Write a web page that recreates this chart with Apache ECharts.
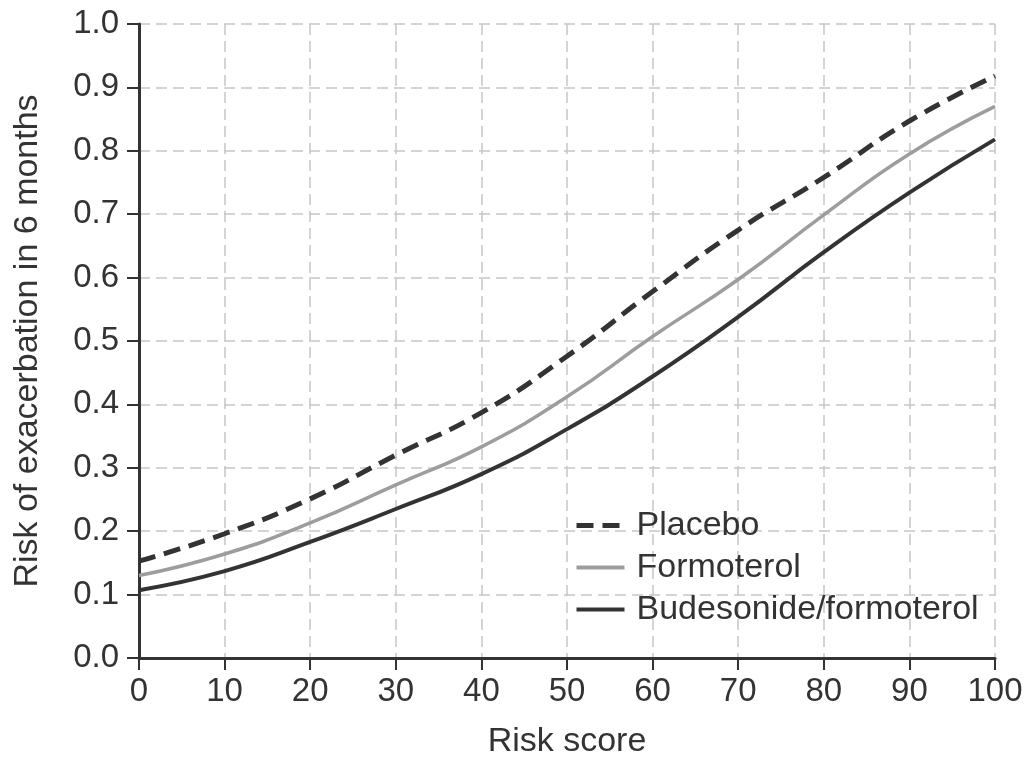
<!DOCTYPE html>
<html>
<head>
<meta charset="utf-8">
<style>
  html, body { margin: 0; padding: 0; background: #fff; }
  #chart { width: 1029px; height: 764px; }
</style>
<script src="https://cdn.jsdelivr.net/npm/echarts@6/dist/echarts.min.js"></script>
</head>
<body>
<div id="chart"></div>
<script>
const riskScore = [0, 10, 20, 30, 40, 50, 60, 70, 80, 90, 100]
const placebo = [0.153, 0.196, 0.251, 0.32, 0.387, 0.476, 0.578, 0.675, 0.758, 0.847, 0.918]
const formoterol = [0.13, 0.164, 0.213, 0.273, 0.333, 0.412, 0.507, 0.597, 0.699, 0.795, 0.87]
const budesonide = [0.107, 0.137, 0.183, 0.235, 0.29, 0.361, 0.444, 0.538, 0.64, 0.734, 0.818]

const font = 'Liberation Sans, Arial, Helvetica, sans-serif'
const ink = '#333'
const gridLine = { show: true, lineStyle: { color: '#c6c6c6', width: 1.5, type: [11, 6] } }

const toPairs = (ys) => riskScore.map((x, i) => [x, ys[i]])

const chart = echarts.init(document.getElementById('chart'))

chart.setOption({
  backgroundColor: '#fff',
  animation: false,
  grid: { left: 139, right: 34, top: 24, bottom: 102 },
  legend: {
    orient: 'vertical',
    left: 574,
    top: 508,
    padding: 0,
    itemWidth: 48,
    itemHeight: 14,
    itemGap: 7,
    // hide the circle ECharts puts on line legend icons
    itemStyle: { color: 'transparent', borderColor: 'transparent', borderWidth: 0 },
    textStyle: { fontFamily: font, fontSize: 34, color: ink, lineHeight: 35, padding: [0, 0, 0, 7] },
    data: [
      { name: 'Placebo', lineStyle: { width: 5, type: [17, 9] } },
      { name: 'Formoterol', lineStyle: { width: 4, type: 'solid' } },
      { name: 'Budesonide/formoterol', lineStyle: { width: 4, type: 'solid' } }
    ]
  },
  xAxis: {
    type: 'value',
    min: 0,
    max: 100,
    interval: 10,
    name: 'Risk score',
    nameLocation: 'middle',
    nameGap: 67,
    nameTextStyle: { fontFamily: font, fontSize: 34, color: ink },
    axisLine: { lineStyle: { color: ink, width: 3 } },
    axisTick: { length: 12, lineStyle: { color: ink, width: 2 } },
    axisLabel: { fontFamily: font, fontSize: 33, color: ink, margin: 17 },
    splitLine: gridLine
  },
  yAxis: {
    type: 'value',
    min: 0,
    max: 1,
    interval: 0.1,
    name: 'Risk of exacerbation in 6 months',
    nameLocation: 'middle',
    nameGap: 94,
    nameTextStyle: { fontFamily: font, fontSize: 34, color: ink },
    axisLine: { show: true, lineStyle: { color: ink, width: 3 } },
    axisTick: { show: true, length: 12, lineStyle: { color: ink, width: 2 } },
    axisLabel: {
      fontFamily: font,
      fontSize: 33,
      color: ink,
      margin: 20,
      formatter: (v) => v.toFixed(1)
    },
    splitLine: gridLine
  },
  series: [
    {
      name: 'Placebo',
      type: 'line',
      smooth: 0.5,
      symbol: 'none',
      data: toPairs(placebo),
      lineStyle: { color: ink, width: 5, type: [17, 9] },
      itemStyle: { color: ink },
      z: 3
    },
    {
      name: 'Formoterol',
      type: 'line',
      smooth: 0.5,
      symbol: 'none',
      data: toPairs(formoterol),
      lineStyle: { color: '#9d9d9d', width: 3.5 },
      itemStyle: { color: '#9d9d9d' },
      z: 2
    },
    {
      name: 'Budesonide/formoterol',
      type: 'line',
      smooth: 0.5,
      symbol: 'none',
      data: toPairs(budesonide),
      lineStyle: { color: ink, width: 4 },
      itemStyle: { color: ink },
      z: 2
    }
  ]
})
</script>
</body>
</html>
